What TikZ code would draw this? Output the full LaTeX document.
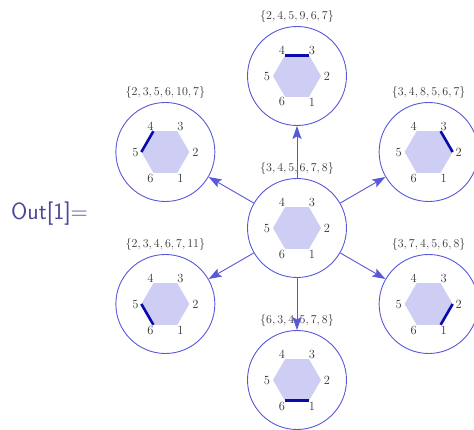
\documentclass[tikz,border=0pt]{standalone}
\usetikzlibrary{arrows.meta,positioning}
\definecolor{graphblue}{RGB}{88,88,218}
\definecolor{hexfill}{RGB}{206,206,245}
\definecolor{bondblue}{RGB}{10,10,175}
\definecolor{outblue}{RGB}{72,72,155}
\tikzset{
  state/.style={circle,draw=graphblue,line width=0.9pt,minimum size=99pt,inner sep=0pt},
  setlab/.style={inner sep=0pt,text=black!80,font=\fontsize{12.5}{14}\selectfont},
  vnum/.style={inner sep=0pt,text=black!80,font=\fontsize{12.5}{14}\selectfont},
  bond/.style={bondblue,line width=2.6pt},
}
\begin{document}
\begin{tikzpicture}[x=1pt,y=1pt,>={Stealth[length=13pt,width=9pt,inset=2.5pt]}]
    \useasboundingbox (-297,-202) rectangle (177,228);
    \node[text=outblue,font=\sffamily\fontsize{23.5}{26}\selectfont,anchor=base west,inner sep=0pt] (out) at (-286,8) {Out[1]=};
    % centre state and its six neighbours
    \foreach \n/\pos/\s/\a/\b in {c/0:0/{3,4,5,6,7,8}/0/0,
        t/90:152/{2,4,5,9,6,7}/4/3, ul/150:152/{2,3,5,6,10,7}/4/5,
        ur/30:152/{3,4,8,5,6,7}/3/2, ll/210:152/{2,3,4,6,7,11}/5/6,
        lr/330:152/{3,7,4,5,6,8}/2/1, b/270:152/{6,3,4,5,7,8}/6/1}
    {
      \node[state] (\n) at (\pos) {};
      \node[setlab,above=3pt of \n] (\n-lab) {$\{\s\}$};
      \begin{scope}[shift={(\n.center)}]
        \fill[hexfill] (0:24) -- (60:24) -- (120:24) -- (180:24) -- (240:24) -- (300:24) -- cycle;
        \foreach \k in {1,...,6}
          \node[vnum] (\n-\k) at ({(\k-2)*60}:30) {\k};
        \ifnum\a>0 \draw[bond] ({(\a-2)*60}:24) -- ({(\b-2)*60}:24); \fi
      \end{scope}
    }
    \foreach \n in {t,ul,ur,ll,lr,b}
      \draw[graphblue,line width=0.9pt,->] (c) -- (\n);
\end{tikzpicture}
\end{document}
